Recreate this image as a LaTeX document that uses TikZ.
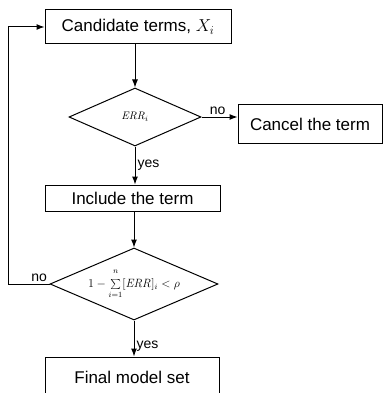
\documentclass[tikz,border=0pt]{standalone}
\usepackage[no-math]{fontspec}
\setmainfont{Liberation Sans}
\usetikzlibrary{shapes.geometric,arrows.meta}
\begin{document}
\begin{tikzpicture}[x=1pt,y=-1pt,
  box/.style={draw, line width=1pt, rectangle, inner sep=0pt, font=\fontsize{17}{19}\selectfont},
  dec/.style={draw, line width=1pt, diamond, inner sep=0pt},
  arr/.style={-{Latex[length=8pt,width=6pt]}, line width=1pt},
  lab/.style={font=\fontsize{14}{16}\selectfont, inner sep=2pt}]
\useasboundingbox (0,0) rectangle (384,393);
\clip (0,0) rectangle (384,393);
\node[box, minimum width=186pt, minimum height=34pt] (cand) at (138,27) {Candidate terms, $X_i$};
\node[dec, minimum width=132pt, minimum height=58pt] (d1) at (135,117) {};
\node[font=\fontsize{11}{13}\selectfont] (d1t) at (d1) {$\mathit{ERR}_i$};
\node[box, minimum width=144pt, minimum height=38pt] (cancel) at (310,124) {Cancel the term};
\node[box, minimum width=175pt, minimum height=26pt] (incl) at (132.5,198) {Include the term};
\node[dec, minimum width=168pt, minimum height=72pt] (d2) at (134,284) {};
\node[font=\fontsize{12}{14}\selectfont] (d2t) at (d2) {$1-\sum\limits_{\raisebox{-2pt}{$\scriptstyle i=1$}}^{\raisebox{4pt}{$\scriptstyle n$}}[\mathit{ERR}]_i<\rho$};
\node[box, minimum width=174pt, minimum height=40pt] (final) at (132,377) {Final model set};
\coordinate (lp) at (8,284);
\draw[arr] (cand.south -| d1.north) -- (d1.north);
\draw[arr] (d1.east) -- (d1.east -| cancel.west) node[lab, pos=0.45, above] {no};
\draw[arr] (d1.south) -- (incl.north -| d1.south) node[lab, midway, right] {yes};
\draw[arr] (incl.south -| d2.north) -- (d2.north);
\draw[arr] (d2.west) -- node[lab, pos=0.25, above] {no} (lp) |- (cand.west);
\draw[arr] (d2.south) -- (final.north -| d2.south) node[lab, pos=0.7, right] {yes};
\end{tikzpicture}
\end{document}
